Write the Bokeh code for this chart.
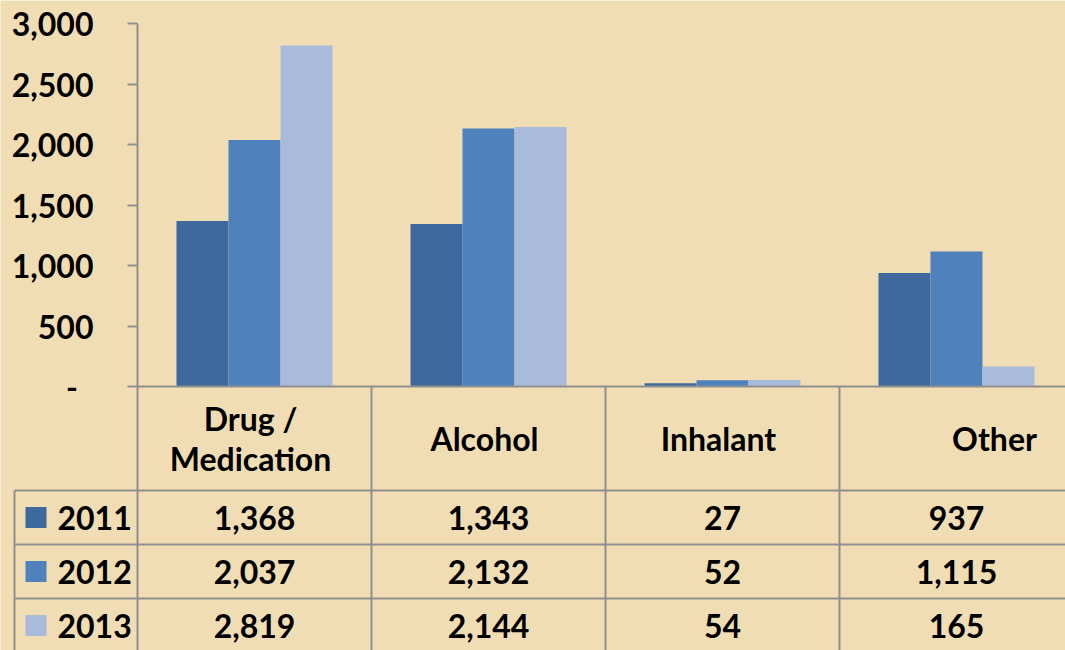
import numpy as np
from bokeh.plotting import figure
from bokeh.models import (ColumnDataSource, Range1d, LinearAxis, FixedTicker,
                          CustomJSTickFormatter)
from bokeh.core.properties import value
from bokeh.embed import file_html
from bokeh.resources import INLINE

# ---- data ----
categories = ["Drug / Medication", "Alcohol", "Inhalant", "Other"]
header_lines = [["Drug /", "Medication"], ["Alcohol"], ["Inhalant"], ["Other"]]
years = ["2011", "2012", "2013"]
v2011 = [1368, 1343, 27, 937]
v2012 = [2037, 2132, 52, 1115]
v2013 = [2819, 2144, 54, 165]
y_ticks = [0, 500, 1000, 1500, 2000, 2500, 3000]

# ---- style ----
colors = ["#3D699F", "#4F81BD", "#A9BBDB"]
BG = "#F0DDB4"
GRID = "#8F8F8F"
FONT = "Lato"
FS = "32px"
AX_PX = 137.0            # page x of the y axis
CAT_PX = 234.0           # pixel width of one category
BAR_W = 52.0 / CAT_PX    # bar width in category units
YEAR_COL_LEFT = (14 - AX_PX) / CAT_PX
X_END = 4.3

W, H = 1065, 650
p = figure(width=W, height=H, output_backend="svg", toolbar_location=None,
           x_axis_type=None, y_axis_type=None,
           x_range=Range1d((0 - AX_PX) / CAT_PX, (W - AX_PX) / CAT_PX),
           y_range=Range1d(-(H - 386) * 3000 / 363, 386 * 3000 / 363),
           min_border=0, background_fill_color=BG, border_fill_color=BG,
           outline_line_color=None)
# table range: rows measured in pixels from the top of the chart
p.extra_y_ranges = {"tbl": Range1d(start=H, end=0)}

# ---- bars ----
series = [v2011, v2012, v2013]
centers = np.arange(len(categories)) + 0.5
for i, (vals, c) in enumerate(zip(series, colors)):
    src = ColumnDataSource(dict(x=centers + (i - 1) * BAR_W, top=vals))
    p.vbar(x="x", top="top", bottom=0, width=BAR_W, source=src,
           fill_color=c, line_color=None)

# ---- table grid ----
header_top, header_bot = 386, 490
row_lines = [490, 544, 598, 652]
row_centers = [517, 571, 625]
bottom = 700

p.segment(x0=[0], y0=[header_top], x1=[X_END], y1=[header_top],
          y_range_name="tbl", line_color=GRID, line_width=2)
p.segment(x0=[YEAR_COL_LEFT] * len(row_lines), y0=row_lines,
          x1=[X_END] * len(row_lines), y1=row_lines,
          y_range_name="tbl", line_color=GRID, line_width=2)
cols = list(range(len(categories) + 1))
p.segment(x0=cols, y0=[header_top] * len(cols), x1=cols, y1=[bottom] * len(cols),
          y_range_name="tbl", line_color=GRID, line_width=2)
p.segment(x0=[YEAR_COL_LEFT], y0=[header_bot], x1=[YEAR_COL_LEFT], y1=[bottom],
          y_range_name="tbl", line_color=GRID, line_width=2)

# ---- header texts ----
hx, hy, ht, hoff = [], [], [], []
header_offsets = [-4, -4, -4, 38]
for i, lines in enumerate(header_lines):
    n = len(lines)
    for j, ln in enumerate(lines):
        hx.append(centers[i])
        hy.append(438 + (j - (n - 1) / 2) * 40)
        ht.append(ln)
        hoff.append(header_offsets[i])
p.text(x="x", y="y", text="t", x_offset="o",
       source=ColumnDataSource(dict(x=hx, y=hy, t=ht, o=hoff)),
       y_range_name="tbl", text_font=value(FONT), text_font_style="bold",
       text_font_size=FS, text_color="black", text_align="center",
       text_baseline="middle")

# ---- values ----
vx, vy, vt = [], [], []
for r, vals in enumerate(series):
    for i, v in enumerate(vals):
        vx.append(centers[i])
        vy.append(row_centers[r])
        vt.append(f"{v:,}")
p.text(x="x", y="y", text="t", source=ColumnDataSource(dict(x=vx, y=vy, t=vt)),
       y_range_name="tbl", text_font=value(FONT), text_font_style="bold",
       text_font_size=FS, text_color="black", text_align="center",
       text_baseline="middle")

# ---- legend keys + years ----
key_x = (35.5 - AX_PX) / CAT_PX
year_x = (57 - AX_PX) / CAT_PX
p.scatter(x=[key_x] * 3, y=row_centers, marker="square", size=21,
          fill_color=colors, line_color=None, y_range_name="tbl")
p.text(x=[year_x] * 3, y=row_centers, text=years, y_range_name="tbl",
       text_font=value(FONT), text_font_style="bold", text_font_size=FS,
       text_color="black", text_align="left", text_baseline="middle")

# ---- y axis ----
yax = LinearAxis(fixed_location=0, ticker=FixedTicker(ticks=y_ticks),
                 formatter=CustomJSTickFormatter(code="""
                     return tick == 0 ? "-\\u00a0\\u00a0" : tick.toLocaleString('en-US');
                 """),
                 bounds=(0, 3000), axis_line_color=GRID, axis_line_width=2,
                 major_tick_line_color=GRID, major_tick_line_width=2,
                 major_tick_out=10, major_tick_in=0, minor_tick_line_color=None,
                 major_label_standoff=34, major_label_text_font=FONT,
                 major_label_text_font_style="bold", major_label_text_font_size=FS,
                 major_label_text_color="black")
p.add_layout(yax, "left")

open("out.html", "w").write(file_html(p, INLINE))
